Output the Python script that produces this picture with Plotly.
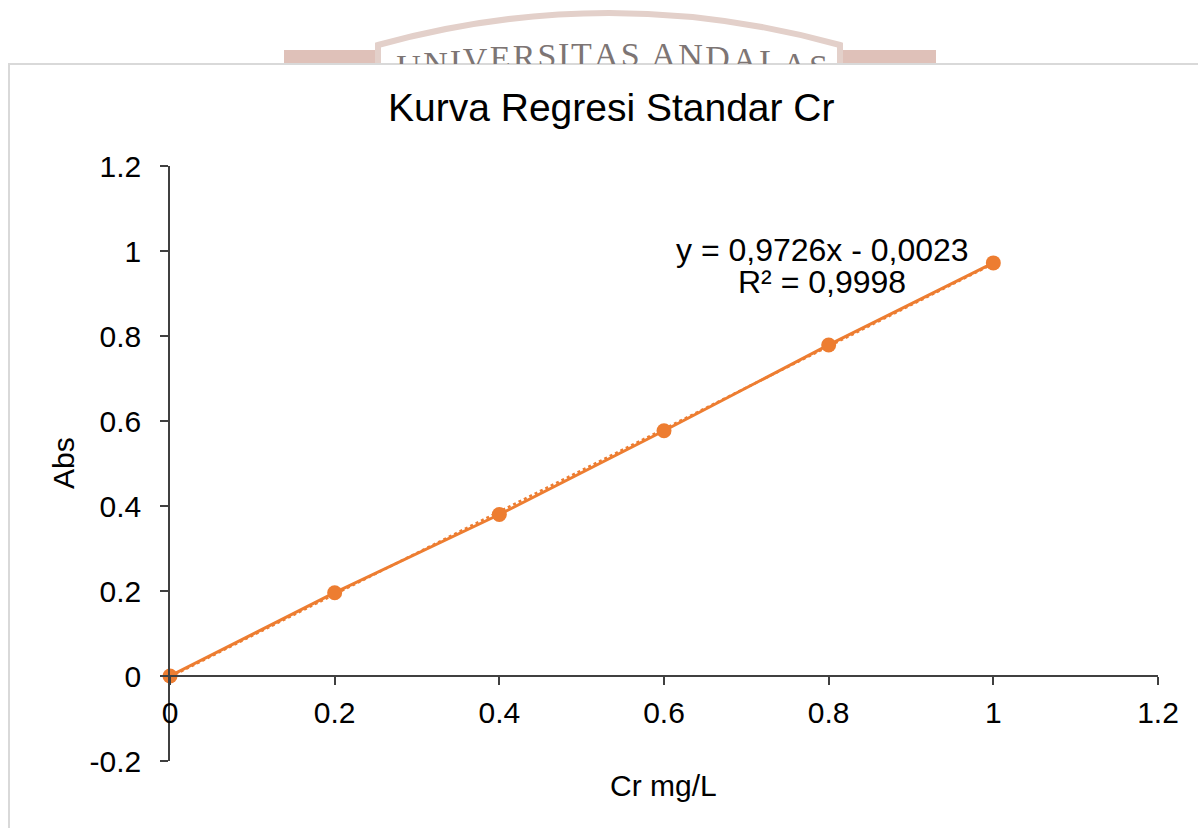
import numpy as np
import plotly.graph_objects as go

W, H = 1198, 828

# ---- data ----
conc = [0, 0.2, 0.4, 0.6, 0.8, 1.0]          # Cr mg/L
absorb = [0, 0.196, 0.380, 0.577, 0.779, 0.972]  # Abs
x_ticks = [0, 0.2, 0.4, 0.6, 0.8, 1, 1.2]
y_ticks = [-0.2, 0, 0.2, 0.4, 0.6, 0.8, 1, 1.2]
eq_text = "y = 0,9726x - 0,0023"
r2_text = "R² = 0,9998"
title_text = "Kurva Regresi Standar Cr"
watermark = "UNIVERSITAS ANDALAS"

ORANGE = "#ED7D31"
FONT = "Liberation Sans, Arial, sans-serif"


def px(x):
    return x / W


def py(y):
    return 1 - y / H


slope, intercept = np.polyfit(conc, absorb, 1)
trend_x = [min(conc), max(conc)]
trend_y = [slope * v + intercept for v in trend_x]

fig = go.Figure()

# trendline (dotted)
fig.add_trace(go.Scatter(x=trend_x, y=trend_y, mode="lines",
                         line=dict(color=ORANGE, width=2.5, dash="dot"),
                         hoverinfo="skip", showlegend=False))
# series
fig.add_trace(go.Scatter(x=conc, y=absorb, mode="lines+markers",
                         line=dict(color=ORANGE, width=3),
                         marker=dict(color=ORANGE, size=15),
                         showlegend=False, cliponaxis=False))

# ---- watermark letters (clipped to area above the frame) ----
tw = {"U": .722, "N": .722, "I": .333, "V": .722, "E": .611, "R": .667,
      "S": .556, "T": .611, "A": .722, "D": .722, "L": .611, " ": .25}
total = sum(tw[c] for c in watermark)
scale = 434 / total
cur = 395
wx, wy, wt = [], [], []
for c in watermark:
    w = tw[c] * scale
    if c != " ":
        xc = cur + w / 2
        wx.append(xc)
        wy.append(46 + 0.00030 * (xc - 612) ** 2 + 11)
        wt.append(c)
    cur += w
fig.add_trace(go.Scatter(x=wx, y=wy, text=wt, mode="text", xaxis="x2", yaxis="y2",
                         textfont=dict(family="Liberation Serif, Times New Roman, serif",
                                       size=34, color="#7d7574"),
                         hoverinfo="skip", showlegend=False, cliponaxis=True))

axis_common = dict(showgrid=False, zeroline=False, showline=True, automargin=False,
                   linecolor="#404040", linewidth=1.5,
                   ticks="outside", ticklen=8, tickwidth=1.5, tickcolor="#404040",
                   tickfont=dict(family=FONT, size=30, color="black"))

fig.update_layout(
    width=W, height=H,
    margin=dict(l=0, r=0, t=0, b=0, pad=0, autoexpand=False),
    paper_bgcolor="white", plot_bgcolor="rgba(0,0,0,0)",
    xaxis=dict(domain=[px(170), px(1158)], range=[0, 1.2],
               tickvals=x_ticks, ticktext=[f"{v:g}" for v in x_ticks],
               ticklabelstandoff=2,
               anchor="free", position=py(676), **axis_common),
    yaxis=dict(domain=[py(761), py(166)], range=[-0.2, 1.2],
               tickvals=y_ticks, ticktext=[f"{v:g}" for v in y_ticks],
               ticklabelstandoff=13,
               anchor="x", **axis_common),
    xaxis2=dict(domain=[0, 1], range=[0, W], visible=False, anchor="y2", automargin=False),
    yaxis2=dict(domain=[py(64), 1], range=[64, 0], visible=False, anchor="x2", automargin=False),
)

shapes = []
# watermark decorations
shapes.append(dict(type="rect", xref="paper", yref="paper",
                   x0=px(284), x1=px(378), y0=py(64), y1=py(50),
                   fillcolor="#dfc1b9", line=dict(width=0), layer="below"))
shapes.append(dict(type="rect", xref="paper", yref="paper",
                   x0=px(840), x1=px(936), y0=py(64), y1=py(50),
                   fillcolor="#dfc1b9", line=dict(width=0), layer="below"))
arch = (f"M {px(378)},{py(66)} L {px(378)},{py(45)} "
        f"Q {px(609)},{py(-19)} {px(840)},{py(45)} L {px(840)},{py(66)} Z")
shapes.append(dict(type="path", xref="paper", yref="paper", path=arch,
                   fillcolor="white", line=dict(color="#e3d0ca", width=6), layer="below"))
# chart frame
shapes.append(dict(type="rect", xref="paper", yref="paper",
                   x0=px(9), x1=1.02, y0=-0.02, y1=py(64),
                   fillcolor="white", line=dict(color="#d9d9d9", width=2), layer="below"))
fig.update_layout(shapes=shapes)

ann = [
    dict(text=title_text, x=px(611), y=py(107.5), size=39),
    dict(text=eq_text, x=px(822), y=py(249.5), size=32),
    dict(text=r2_text, x=px(822), y=py(282), size=32),
    dict(text="Cr mg/L", x=px(663), y=py(785), size=30),
]
for a in ann:
    fig.add_annotation(text=a["text"], x=a["x"], y=a["y"], xref="paper", yref="paper",
                       xanchor="center", yanchor="middle", showarrow=False,
                       font=dict(family=FONT, size=a["size"], color="black"))
fig.add_annotation(text="Abs", x=px(63), y=py(463), xref="paper", yref="paper",
                   xanchor="center", yanchor="middle", showarrow=False, textangle=-90,
                   font=dict(family=FONT, size=30, color="black"))

fig.write_html("out.html", config={"displayModeBar": False},
               post_script="document.body.style.margin='0px';document.body.style.overflow='hidden';")
